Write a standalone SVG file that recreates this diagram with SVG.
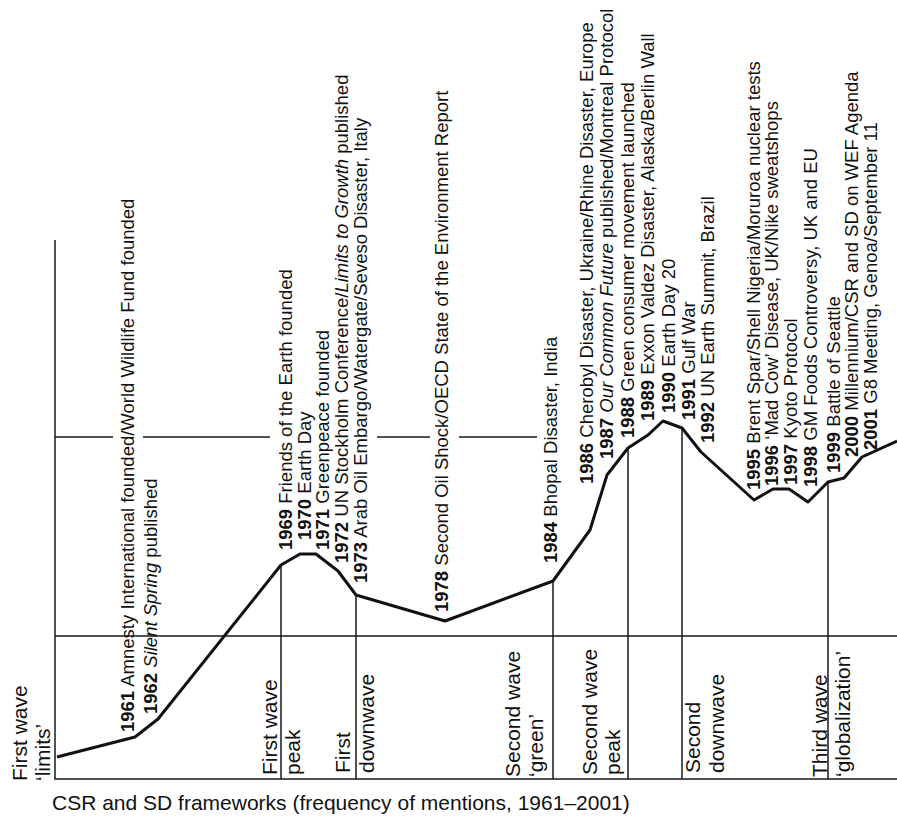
<svg xmlns="http://www.w3.org/2000/svg" width="897" height="819" viewBox="0 0 897 819">
<style>
.ln{stroke:#1a1a1a;stroke-width:1.5;fill:none}
.cv{stroke:#111;stroke-width:3;fill:none;stroke-linejoin:round}
.lb{font-family:"Liberation Sans",Arial,sans-serif;font-size:18.5px;fill:#111}
.ph{font-family:"Liberation Sans",Arial,sans-serif;font-size:21px;fill:#111}
.y{font-weight:bold}
.i{font-style:italic}
</style>
<rect width="897" height="819" fill="#fff"/>
<g id="axes">
<path class="ln" d="M55,240V779H897M55,636H897M55,437H113M143,437H270M377,437H430M459,437H537"/>
<path class="ln" d="M281,565V779M356,595V779M553,581V779M628,448V779M682,428V779M828,482V779"/>
</g>
<g id="connectors">
<polyline class="cv" points="57,757 135,737 158,719 281,565 300,554 316,554 338,571 356,595 445,621 553,581 590,530 607,475 628,448 648,435 663,421 682,428 701,452 754,500 773,489 789,489 808,502 828,482 844,478 862,457 897,441"/>
</g>
<g id="events" class="lb">
<text transform="translate(134,732) rotate(-90)"><tspan class="y">1961</tspan> Amnesty International founded/World Wildlife Fund founded</text>
<text transform="translate(157,714) rotate(-90)"><tspan class="y">1962</tspan> <tspan class="i">Silent Spring</tspan> published</text>
<text transform="translate(292,550) rotate(-90)"><tspan class="y">1969</tspan> Friends of the Earth founded</text>
<text transform="translate(311,540) rotate(-90)"><tspan class="y">1970</tspan> Earth Day</text>
<text transform="translate(329,550) rotate(-90)"><tspan class="y">1971</tspan> Greenpeace founded</text>
<text transform="translate(348,563) rotate(-90)"><tspan class="y">1972</tspan> UN Stockholm Conference/<tspan class="i">Limits to Growth</tspan> published</text>
<text transform="translate(367,583) rotate(-90)"><tspan class="y">1973</tspan> Arab Oil Embargo/Watergate/Seveso Disaster, Italy</text>
<text transform="translate(448,612) rotate(-90)"><tspan class="y">1978</tspan> Second Oil Shock/OECD State of the Environment Report</text>
<text transform="translate(557,563) rotate(-90)"><tspan class="y">1984</tspan> Bhopal Disaster, India</text>
<text transform="translate(593,484) rotate(-90)"><tspan class="y">1986</tspan> Cherobyl Disaster, Ukraine/Rhine Disaster, Europe</text>
<text transform="translate(613,459) rotate(-90)"><tspan class="y">1987</tspan> <tspan class="i">Our Common Future</tspan> published/Montreal Protocol</text>
<text transform="translate(634,438) rotate(-90)"><tspan class="y">1988</tspan> Green consumer movement launched</text>
<text transform="translate(654,421) rotate(-90)"><tspan class="y">1989</tspan> Exxon Valdez Disaster, Alaska/Berlin Wall</text>
<text transform="translate(675,413) rotate(-90)"><tspan class="y">1990</tspan> Earth Day 20</text>
<text transform="translate(695,420) rotate(-90)"><tspan class="y">1991</tspan> Gulf War</text>
<text transform="translate(714,443) rotate(-90)"><tspan class="y">1992</tspan> UN Earth Summit, Brazil</text>
<text transform="translate(760,490) rotate(-90)"><tspan class="y">1995</tspan> Brent Spar/Shell Nigeria/Moruroa nuclear tests</text>
<text transform="translate(778,486) rotate(-90)"><tspan class="y">1996</tspan> ‘Mad Cow’ Disease, UK/Nike sweatshops</text>
<text transform="translate(797,485) rotate(-90)"><tspan class="y">1997</tspan> Kyoto Protocol</text>
<text transform="translate(817,487) rotate(-90)"><tspan class="y">1998</tspan> GM Foods Controversy, UK and EU</text>
<text transform="translate(840,473) rotate(-90)"><tspan class="y">1999</tspan> Battle of Seattle</text>
<text transform="translate(858,457) rotate(-90)"><tspan class="y">2000</tspan> Millennium/CSR and SD on WEF Agenda</text>
<text transform="translate(877,450) rotate(-90)"><tspan class="y">2001</tspan> G8 Meeting, Genoa/September 11</text>
</g>
<g id="phases" class="ph">
<g id="phase-first-wave"><text transform="translate(27,781) rotate(-90)">First wave</text><text transform="translate(50,781) rotate(-90)">‘limits’</text></g>
<g id="phase-first-peak"><text transform="translate(277,775) rotate(-90)">First wave</text><text transform="translate(300,775) rotate(-90)">peak</text></g>
<g id="phase-first-down"><text transform="translate(350,773) rotate(-90)">First</text><text transform="translate(374,773) rotate(-90)">downwave</text></g>
<g id="phase-second-wave"><text transform="translate(520,777) rotate(-90)">Second wave</text><text transform="translate(543,777) rotate(-90)">‘green’</text></g>
<g id="phase-second-peak"><text transform="translate(597,775) rotate(-90)">Second wave</text><text transform="translate(620,775) rotate(-90)">peak</text></g>
<g id="phase-second-down"><text transform="translate(700,773) rotate(-90)">Second</text><text transform="translate(724,773) rotate(-90)">downwave</text></g>
<g id="phase-third-wave"><text transform="translate(827,777) rotate(-90)">Third wave</text><text transform="translate(850,777) rotate(-90)">‘globalization’</text></g>
</g>
<g id="caption" class="ph">
<text x="52" y="810">CSR and SD frameworks (frequency of mentions, 1961–2001)</text>
</g>
</svg>
